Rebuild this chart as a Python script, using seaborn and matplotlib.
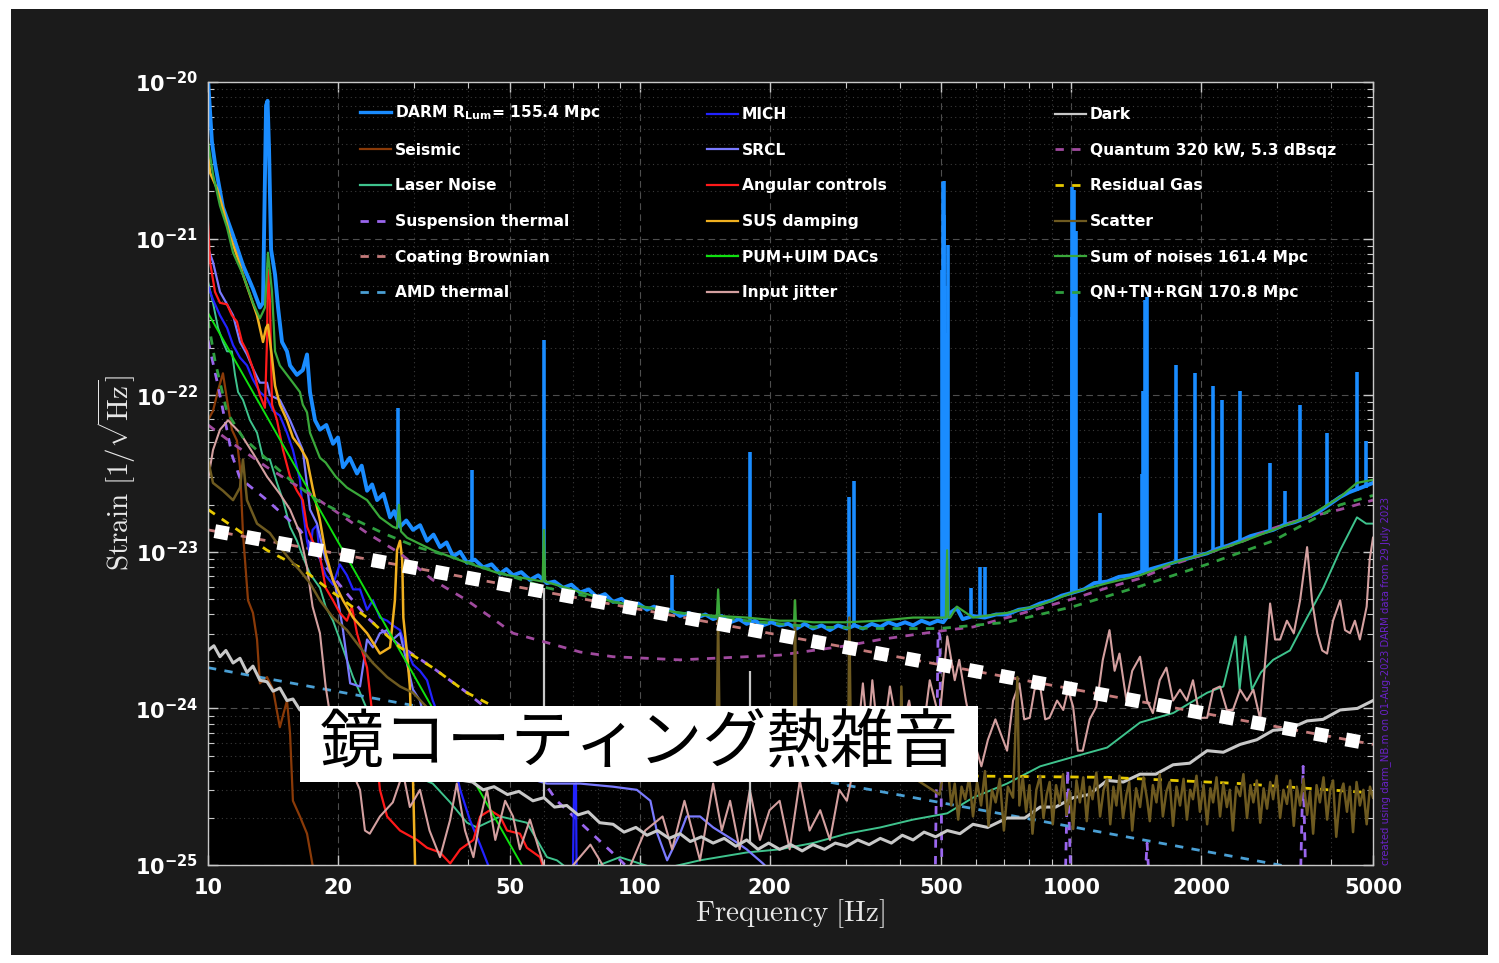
import numpy as np
import pandas as pd
import matplotlib
matplotlib.use("Agg")
import matplotlib.pyplot as plt
from matplotlib.lines import Line2D
from matplotlib.patches import Rectangle
from matplotlib.ticker import LogLocator, NullFormatter
import seaborn as sns

plt.rcParams['font.family'] = ['DejaVu Sans']
plt.rcParams['mathtext.fontset'] = 'dejavusans'
plt.rcParams['mathtext.default'] = 'bf'

# ---------------------------------------------------------------------------
# Noise budget curves: (frequency [Hz], log10 strain ASD [1/sqrt(Hz)])
# ---------------------------------------------------------------------------
darm = [(10, -19.98), (10.21, -20.38), (10.38, -20.52), (10.83, -20.80), (11.43, -20.98),
        (12.05, -21.17), (12.71, -21.32), (13.19, -21.44), (13.41, -21.41), (13.63, -20.15),
        (13.74, -20.12), (13.85, -20.43), (14.0, -21.07), (14.3, -21.23), (14.53, -21.44),
        (14.84, -21.66), (15.24, -21.72), (15.49, -21.81), (16.07, -21.87), (16.58, -21.84),
        (16.96, -21.74), (17.23, -21.98), (17.7, -22.16), (18.17, -22.22), (18.8, -22.19),
        (19.48, -22.31), (20.0, -22.27), (20.55, -22.46), (21.3, -22.40), (22.14, -22.50),
        (22.7, -22.45), (23.36, -22.61), (24.0, -22.57), (24.64, -22.67), (25.5, -22.63),
        (26.41, -22.78), (27.0, -22.74), (27.85, -22.84), (28.8, -22.80), (29.85, -22.86),
        (31.0, -22.83), (32.17, -22.93), (33.3, -22.89), (34.48, -22.97), (35.7, -22.94),
        (36.97, -23.03), (38.4, -23.00), (39.82, -23.07), (41.5, -23.05), (43.4, -23.10),
        (45.4, -23.08), (47.5, -23.14), (49.1, -23.11), (50.9, -23.15), (53.2, -23.13),
        (55.7, -23.18), (58.2, -23.15), (61.0, -23.20), (63.5, -23.19), (66.5, -23.23),
        (69.5, -23.21), (72.8, -23.26), (76.2, -23.24), (79.6, -23.29), (83.1, -23.27),
        (86.8, -23.32), (90.8, -23.30), (95.0, -23.35), (99.3, -23.33), (104, -23.37),
        (108, -23.35), (113, -23.39), (118, -23.37), (124, -23.41), (130, -23.39),
        (136, -23.42), (142, -23.40), (148, -23.43), (155, -23.41), (162, -23.45),
        (170, -23.43), (177, -23.46), (185, -23.44), (193, -23.47), (202, -23.45),
        (211, -23.47), (221, -23.46), (231, -23.49), (241, -23.46), (252, -23.49),
        (264, -23.47), (276, -23.50), (288, -23.47), (302, -23.49), (315, -23.47),
        (329, -23.49), (345, -23.46), (361, -23.48), (377, -23.45), (394, -23.47),
        (412, -23.45), (430, -23.47), (450, -23.44), (470, -23.46), (490, -23.44),
        (505, -23.45), (524, -23.39), (543, -23.36), (560, -23.43), (592, -23.41),
        (630, -23.42), (670, -23.40), (710, -23.40), (755, -23.37), (800, -23.36),
        (847, -23.33), (900, -23.31), (950, -23.28), (1010, -23.26), (1070, -23.24),
        (1130, -23.20), (1211, -23.19), (1290, -23.16), (1370, -23.15), (1443, -23.13),
        (1530, -23.11), (1620, -23.09), (1721, -23.07), (1820, -23.05), (1940, -23.03),
        (2064, -23.01), (2180, -22.98), (2310, -22.96), (2461, -22.93), (2600, -22.90),
        (2760, -22.88), (2935, -22.86), (3100, -22.83), (3300, -22.81), (3518, -22.78),
        (3720, -22.75), (3950, -22.70), (4196, -22.65), (4400, -22.62), (4700, -22.59),
        (5000, -22.56)]

# narrow lines in DARM: frequency, log10 top, log10 floor beneath the line
darm_line_hz = [27.55, 40.9, 60.0, 118.9, 180.3, 305.6, 313.9, 503, 504.6, 506, 508, 510,
                512, 515, 518.3, 586, 614.9, 631.5, 1002, 1004, 1008, 1012, 1015, 1020,
                1026, 1166, 1462, 1467, 1475, 1483, 1490, 1498, 1749, 1935, 2131, 2236,
                2461, 2888, 3130, 3389, 3914, 4594, 4820]
darm_line_top = [-22.08, -22.48, -21.65, -23.15, -22.36, -22.65, -22.55, -21.2, -20.64,
                 -20.85, -20.63, -21.3, -21.6, -21.9, -21.04, -23.23, -23.10, -23.10, -21.5,
                 -20.67, -21.3, -22.2, -20.69, -21.6, -20.95, -22.75, -22.5, -21.97, -22.2,
                 -21.39, -22.0, -21.37, -21.81, -21.86, -21.94, -22.03, -21.97, -22.43,
                 -22.61, -22.06, -22.24, -21.85, -22.29]
darm_line_floor = [-22.80, -23.06, -23.19, -23.38, -23.45, -23.48, -23.47, -23.43, -23.43,
                   -23.43, -23.43, -23.43, -23.43, -23.43, -23.43, -23.41, -23.41, -23.41,
                   -23.26, -23.26, -23.26, -23.26, -23.26, -23.26, -23.26, -23.20, -23.12,
                   -23.12, -23.12, -23.12, -23.12, -23.12, -23.07, -23.03, -23.00, -22.98,
                   -22.93, -22.87, -22.83, -22.80, -22.71, -22.61, -22.59]

seismic = [(10, -22.16), (10.27, -22.10), (10.55, -21.97), (10.83, -21.86), (11.07, -22.03),
           (11.36, -22.22), (11.67, -22.29), (11.86, -22.46), (12.05, -22.88), (12.38, -23.31),
           (12.71, -23.39), (12.99, -23.56), (13.19, -23.84), (13.7, -23.80), (14.15, -23.88),
           (14.67, -24.12), (15.24, -23.95), (15.49, -24.16), (15.73, -24.59), (16.33, -24.69),
           (16.96, -24.80), (17.47, -25.0), (18.17, -25.22)]

laser = [(10, -25.5), (10.01, -21.28), (10.27, -21.41), (10.55, -21.57), (10.83, -21.66),
         (11.07, -21.72), (11.36, -21.72), (11.55, -21.87), (11.74, -21.98), (12.05, -22.03),
         (12.51, -22.16), (12.99, -22.24), (13.41, -22.40), (13.91, -22.41), (14.45, -22.56),
         (14.92, -22.67), (15.49, -22.84), (16.07, -22.93), (16.58, -23.03), (17.23, -23.14),
         (18.17, -23.23), (18.73, -23.35), (19.48, -23.44), (20.2, -23.56), (20.98, -23.69),
         (21.68, -23.80), (22.5, -23.90), (25.0, -24.20), (27.85, -24.39), (33.17, -24.48),
         (36.4, -24.60), (39.82, -24.73), (42.0, -24.76), (47.5, -24.69), (54.8, -24.73),
         (61.0, -24.95), (64.3, -24.97), (70.9, -25.06), (90.0, -24.95), (111, -25.03),
         (138, -24.97), (177, -24.92), (211, -24.90), (252, -24.86), (302, -24.80),
         (361, -24.76), (430, -24.71), (516, -24.67), (592, -24.57), (710, -24.48),
         (847, -24.37), (1010, -24.31), (1211, -24.25), (1443, -24.09), (1721, -24.03),
         (2064, -23.90), (2251, -23.86), (2403, -23.54), (2454, -23.88), (2530, -23.54),
         (2620, -23.88), (2750, -23.77), (2935, -23.69), (3210, -23.63), (3518, -23.42),
         (3835, -23.23), (4196, -22.99), (4590, -22.78), (4820, -22.82), (5000, -22.82)]

suspension = [(10, -21.65), (10.55, -21.94), (11.36, -22.38), (11.86, -22.53), (13.7, -22.67),
              (16.33, -22.86), (19.48, -23.16), (23.36, -23.42), (27.85, -23.60), (33.17, -23.74),
              (39.82, -23.90), (47.5, -24.07), (64.3, -24.59), (88.7, -24.95), (94.9, -25.03),
              (138, -25.22), (400, -25.35), (483.5, -25.2), (491.3, -23.51), (495.8, -23.53),
              (502, -25.2), (967, -25.2), (981, -24.39), (1000, -25.2), (1475, -25.2),
              (1498, -24.86), (1522, -25.2), (3389, -25.2), (3444, -24.37), (3500, -25.2),
              (5000, -25.5)]

coating_hz = [10, 5000]
coating_log = [-22.86, -24.23]

amd_hz = [10, 5000]
amd_log = [-23.74, -25.11]

mich = [(10, -21.30), (10.27, -21.39), (10.66, -21.49), (11.07, -21.57), (11.43, -21.68),
        (11.86, -21.76), (12.31, -21.81), (12.71, -21.90), (13.19, -21.98), (13.7, -22.02),
        (14.15, -22.10), (14.67, -22.13), (15.24, -22.24), (15.73, -22.35), (16.33, -22.54),
        (16.58, -22.73), (16.96, -22.93), (17.23, -23.02), (17.47, -22.86), (17.88, -22.83),
        (18.17, -23.05), (18.73, -23.15), (19.48, -23.21), (20.2, -23.08), (20.98, -23.15),
        (21.68, -23.24), (22.5, -23.24), (23.36, -23.37), (24.1, -23.31), (25.02, -23.42),
        (26.0, -23.44), (26.8, -23.47), (27.85, -23.50), (28.92, -23.63), (29.85, -23.72),
        (30.98, -23.76), (32.17, -23.82), (33.17, -23.95), (34.48, -24.07), (35.8, -24.17),
        (36.97, -24.33), (38.4, -24.52), (40.4, -24.71), (42.7, -24.87), (45.0, -25.03),
        (65.4, -25.22), (70.0, -25.1), (70.5, -24.49), (71.2, -24.48), (71.5, -25.22)]

srcl = [(10, -21.06), (10.27, -21.15), (10.66, -21.34), (11.07, -21.42), (11.43, -21.49),
        (11.86, -21.66), (12.31, -21.74), (12.71, -21.83), (13.19, -21.92), (13.7, -21.92),
        (13.91, -22.00), (14.67, -22.03), (15.49, -22.16), (16.58, -22.35), (17.23, -22.73),
        (17.88, -22.82), (18.73, -23.05), (19.76, -23.23), (20.5, -23.48), (21.35, -23.84),
        (22.5, -23.86), (23.36, -23.56), (24.1, -23.61), (25.02, -23.52), (26.0, -23.50),
        (26.8, -23.56), (27.85, -23.52), (29.85, -23.88), (30.98, -23.95), (32.17, -24.14),
        (34.48, -24.33), (38.4, -24.20), (42.7, -24.33), (47.5, -24.39), (52.8, -24.43),
        (61.0, -24.48), (72.8, -24.48), (86.8, -24.50), (98.5, -24.52), (105.9, -24.59),
        (109.9, -24.80), (115.8, -24.97), (124, -24.80), (128.5, -24.69), (138, -24.69),
        (148, -24.76), (164.6, -24.84), (177, -24.90), (193, -24.99), (211, -25.1)]

angular = [(10, -20.89), (10.11, -21.15), (10.38, -21.34), (10.66, -21.41), (11.07, -21.42),
           (11.36, -21.49), (11.67, -21.53), (11.99, -21.66), (12.31, -21.72), (12.71, -21.83),
           (13.19, -22.00), (13.55, -22.08), (13.7, -21.65), (13.77, -21.20), (13.91, -21.39),
           (14.07, -22.06), (14.45, -22.16), (14.92, -22.35), (15.49, -22.52), (16.07, -22.61),
           (16.58, -22.67), (16.96, -22.84), (17.47, -22.93), (18.17, -23.03), (18.73, -23.23),
           (19.48, -23.31), (20.2, -23.39), (20.98, -23.44), (21.54, -23.35), (22.14, -23.52),
           (23.36, -23.74), (24.1, -24.07), (25.02, -24.52), (26.0, -24.69), (27.85, -24.78),
           (30.5, -24.84), (32.17, -24.89), (34.48, -24.92), (36.4, -24.99), (38.4, -24.90),
           (41.2, -24.84), (42.7, -24.69), (45.0, -24.65), (47.5, -24.69), (49.3, -24.78),
           (52.8, -24.80), (54.8, -24.89), (58.8, -24.95), (60.4, -25.06)]

sus_damping = [(10, -20.45), (10.11, -20.58), (10.49, -20.68), (10.83, -20.81), (11.24, -20.98),
               (11.67, -21.11), (12.05, -21.23), (12.51, -21.36), (12.99, -21.49), (13.41, -21.66),
               (13.63, -21.57), (13.77, -21.55), (14.07, -21.76), (14.3, -21.94), (14.67, -22.06),
               (15.24, -22.16), (15.73, -22.27), (16.33, -22.33), (16.96, -22.41), (17.47, -22.59),
               (18.17, -22.80), (18.73, -23.01), (19.48, -23.18), (20.55, -23.31), (21.68, -23.42),
               (23.36, -23.52), (25.02, -23.65), (26.41, -23.61), (27.1, -23.31), (27.41, -22.99),
               (27.85, -22.93), (28.18, -23.05), (28.35, -23.42), (28.92, -23.65), (29.35, -23.86),
               (29.85, -24.46), (30.2, -25.03)]

dac_hz = [10, 53.3]
dac_log = [-21.475, -25.0]

jitter = [(10, -22.54), (10.27, -22.35), (10.66, -22.22), (11.13, -22.16), (11.86, -22.24),
          (12.71, -22.37), (13.7, -22.52), (14.67, -22.63), (15.49, -22.73), (16.33, -22.88),
          (16.96, -23.10), (17.47, -23.35), (18.17, -23.52), (18.73, -23.86), (19.48, -24.16),
          (20.98, -24.33), (22.5, -24.52), (23.1, -24.78), (23.7, -24.80), (25.02, -24.69),
          (26.8, -24.60), (28.3, -24.41), (29.35, -24.63), (30.98, -24.52), (32.6, -24.78),
          (34.48, -24.95), (36.4, -24.71), (37.7, -24.48), (39.4, -24.78), (41.2, -24.95),
          (42.7, -24.71), (44.3, -24.52), (46.3, -24.84), (48.8, -24.59), (50.9, -24.69),
          (52.8, -24.90), (55.7, -24.71), (60.4, -25.03), (65.4, -25.1), (76.9, -24.87),
          (83.3, -25.03), (95, -25.01), (103, -24.78), (113, -24.69), (118.9, -24.90),
          (127, -24.59), (138, -24.97), (148, -24.48), (155, -24.78), (162, -24.59),
          (170.5, -24.90), (180, -24.52), (190, -24.84), (200, -24.65), (211, -24.59),
          (222.6, -24.90), (235, -24.46), (247.6, -24.78), (262, -24.65), (276, -24.84),
          (290, -24.52), (302, -24.59), (316, -24.33), (329, -23.84), (338, -24.20),
          (346, -23.82), (361, -24.33), (380, -23.86), (400, -24.20), (421, -23.95),
          (445, -24.33), (470, -23.82), (495, -24.07), (516, -23.54), (537, -23.82),
          (550, -23.69), (570, -23.95), (594, -24.20), (619, -24.37), (641, -24.20),
          (667, -24.07), (710, -24.27), (733, -23.95), (758, -23.84), (778, -24.07),
          (801, -24.06), (822, -23.88), (847, -23.86), (870, -24.07), (890, -24.06),
          (927, -23.95), (958, -24.01), (983, -23.88), (1010, -23.99), (1036, -24.27),
          (1063, -24.27), (1103, -24.07), (1143, -23.99), (1183, -23.69), (1226, -23.50),
          (1260, -23.76), (1293, -23.65), (1342, -23.95), (1384, -23.76), (1443, -23.67),
          (1498, -23.95), (1545, -24.03), (1603, -23.82), (1661, -23.74), (1721, -23.95),
          (1786, -23.88), (1853, -23.95), (1914, -23.82), (1986, -24.06), (2064, -24.06),
          (2131, -23.88), (2211, -23.86), (2293, -24.01), (2368, -24.01), (2461, -23.88),
          (2553, -23.95), (2641, -23.88), (2740, -24.07), (2815, -23.69), (2888, -23.33),
          (2966, -23.56), (3046, -23.56), (3159, -23.44), (3277, -23.52), (3389, -23.31),
          (3518, -22.97), (3612, -23.31), (3714, -23.52), (3813, -23.63), (3914, -23.65),
          (4040, -23.44), (4196, -23.31), (4307, -23.50), (4423, -23.52), (4540, -23.44),
          (4662, -23.56), (4834, -23.35), (4912, -23.05), (5000, -22.91)]

dark = [(10, -23.63), (10.32, -23.60), (10.66, -23.67), (11.0, -23.63), (11.43, -23.71),
        (11.86, -23.68), (12.31, -23.77), (12.71, -23.73), (13.19, -23.82), (13.7, -23.83),
        (14.15, -23.89), (14.67, -23.87), (15.24, -23.95), (15.73, -23.94), (16.33, -24.01),
        (17.0, -24.03), (18.0, -24.08), (19.5, -24.13), (21, -24.18), (23, -24.24),
        (25, -24.29), (27.5, -24.33), (30, -24.36), (33, -24.40), (36, -24.43),
        (38.9, -24.46), (41, -24.47), (43.4, -24.52), (46, -24.50), (49.4, -24.55),
        (52.5, -24.53), (56.6, -24.59), (60.0, -24.57), (63.5, -24.63), (67.8, -24.62),
        (72, -24.68), (76, -24.66), (80.8, -24.73), (86.8, -24.74), (92, -24.79),
        (98, -24.76), (104, -24.81), (110, -24.78), (117, -24.83), (124, -24.80),
        (131, -24.85), (139, -24.82), (148, -24.86), (157, -24.83), (167, -24.88),
        (177, -24.84), (188, -24.90), (199, -24.86), (211, -24.90), (224, -24.87),
        (238, -24.91), (252, -24.87), (268, -24.90), (284, -24.86), (302, -24.88),
        (320, -24.84), (340, -24.87), (361, -24.83), (383, -24.86), (406, -24.81),
        (430, -24.84), (456, -24.79), (485, -24.82), (516, -24.78), (552, -24.80),
        (592, -24.74), (640, -24.76), (710, -24.70), (780, -24.70), (847, -24.63),
        (920, -24.63), (1010, -24.57), (1100, -24.55), (1211, -24.46), (1320, -24.47),
        (1443, -24.42), (1570, -24.42), (1721, -24.36), (1880, -24.35), (2064, -24.27),
        (2250, -24.28), (2461, -24.23), (2690, -24.20), (2935, -24.14), (3200, -24.13),
        (3518, -24.08), (3830, -24.07), (4196, -24.01), (4600, -24.00), (5000, -23.95)]
dark_line_hz = [60.0, 180.3]
dark_line_top = [-23.23, -23.76]
dark_line_floor = [-24.58, -24.85]

quantum = [(10, -22.19), (11.43, -22.31), (13.7, -22.46), (16.33, -22.59), (19.48, -22.73),
           (23.36, -22.88), (27.85, -23.01), (33.17, -23.18), (39.82, -23.31), (47.5, -23.46),
           (50.9, -23.52), (61.0, -23.58), (72.8, -23.64), (86.8, -23.67), (104, -23.68),
           (124, -23.69), (148, -23.68), (177, -23.67), (211, -23.66), (252, -23.63),
           (302, -23.60), (361, -23.56), (430, -23.53), (516, -23.50), (592, -23.48),
           (710, -23.42), (847, -23.36), (1010, -23.30), (1211, -23.23), (1443, -23.17),
           (1721, -23.08), (2064, -23.01), (2461, -22.94), (2935, -22.85), (3518, -22.78),
           (4196, -22.73), (5000, -22.67)]

residual_gas = [(10, -22.73), (11.43, -22.84), (13.7, -22.99), (16.33, -23.10), (19.48, -23.26),
                (23.36, -23.42), (27.85, -23.61), (33.17, -23.74), (39.82, -23.90), (50.0, -24.04),
                (80.8, -24.23), (138, -24.34), (235, -24.39), (494, -24.43), (1211, -24.44),
                (2461, -24.48), (5000, -24.54)]

scatter = [(10, -22.41), (10.27, -22.56), (10.83, -22.61), (11.43, -22.67), (11.86, -22.59),
           (12.05, -22.41), (12.31, -22.67), (12.99, -22.82), (13.91, -22.88), (14.67, -22.97),
           (15.49, -23.05), (16.33, -23.12), (17.23, -23.20), (18.17, -23.31), (19.48, -23.42),
           (20.98, -23.50), (22.5, -23.61), (24.1, -23.71), (26.0, -23.80), (27.85, -23.86),
           (29.85, -23.90), (32.6, -24.01), (42.7, -24.20), (52.8, -24.30), (65.4, -24.35),
           (80.8, -24.33), (106, -24.38), (138, -24.35), (150.5, -24.37), (152, -23.42),
           (153.5, -24.37), (227.5, -24.38), (229, -23.31), (231, -24.38), (304, -24.37),
           (306, -23.42), (309, -24.37), (400, -24.40), (404, -23.86), (408, -24.40),
           (495, -24.55), (505, -24.42), (516, -24.33), (527, -24.62), (537, -24.48),
           (547, -24.71), (557, -24.50), (568, -24.58), (580, -24.44), (592, -24.69),
           (605, -24.47), (618, -24.62), (631, -24.40), (643, -24.75), (655, -24.52),
           (668, -24.60), (683, -24.45), (698, -24.78), (713, -24.50), (733, -24.57),
           (750, -23.80), (758, -24.62), (772, -24.44), (786, -24.66), (800, -24.49),
           (813, -24.80), (830, -24.52), (847, -24.43), (862, -24.70), (877, -24.55),
           (891, -24.47), (906, -24.74), (922, -24.49), (940, -24.61), (957, -24.42),
           (975, -24.68), (992, -24.53), (1010, -24.77), (1028, -24.46), (1047, -24.60),
           (1066, -24.44), (1086, -24.72), (1103, -24.50), (1120, -24.58), (1143, -24.41),
           (1166, -24.69), (1188, -24.52), (1211, -24.45), (1231, -24.74), (1252, -24.50),
           (1272, -24.62), (1293, -24.43), (1318, -24.70), (1342, -24.55), (1362, -24.47),
           (1384, -24.78), (1413, -24.51), (1443, -24.63), (1470, -24.44), (1498, -24.58),
           (1520, -24.72), (1545, -24.49), (1575, -24.60), (1603, -24.42), (1630, -24.69),
           (1661, -24.53), (1690, -24.47), (1721, -24.75), (1753, -24.50), (1786, -24.62),
           (1820, -24.45), (1853, -24.71), (1885, -24.52), (1914, -24.58), (1950, -24.43),
           (1986, -24.66), (2025, -24.49), (2064, -24.74), (2100, -24.51), (2131, -24.60),
           (2170, -24.44), (2211, -24.69), (2250, -24.48), (2293, -24.63), (2330, -24.52),
           (2368, -24.78), (2410, -24.50), (2461, -24.56), (2505, -24.42), (2553, -24.70),
           (2600, -24.49), (2641, -24.60), (2690, -24.46), (2740, -24.73), (2790, -24.51),
           (2841, -24.64), (2890, -24.47), (2935, -24.58), (2990, -24.43), (3046, -24.70),
           (3100, -24.52), (3159, -24.61), (3215, -24.46), (3277, -24.75), (3330, -24.50),
           (3389, -24.62), (3450, -24.45), (3518, -24.68), (3575, -24.53), (3633, -24.80),
           (3700, -24.49), (3766, -24.60), (3840, -24.44), (3914, -24.71), (3980, -24.52),
           (4040, -24.46), (4110, -24.82), (4196, -24.55), (4270, -24.48), (4352, -24.66),
           (4420, -24.50), (4495, -24.79), (4580, -24.47), (4662, -24.62), (4750, -24.52),
           (4834, -24.74), (4920, -24.50), (5000, -24.57)]

noise_sum = [(10, -20.38), (10.27, -20.59), (10.66, -20.79), (11.07, -20.93), (11.43, -21.09),
             (12.05, -21.23), (12.71, -21.41), (13.19, -21.51), (13.55, -21.44), (13.77, -21.09),
             (14.07, -21.34), (14.3, -21.72), (14.67, -21.81), (15.24, -21.87), (15.73, -21.92),
             (16.33, -21.98), (16.58, -22.06), (16.96, -22.11), (17.23, -22.24), (18.17, -22.40),
             (18.73, -22.43), (19.76, -22.52), (20.98, -22.59), (22.14, -22.63), (23.36, -22.67),
             (25.02, -22.78), (26.81, -22.84), (27.4, -22.85), (27.7, -22.70), (28.0, -22.87),
             (28.92, -22.91), (33.17, -22.99), (39.82, -23.07), (47.5, -23.14), (59.6, -23.19),
             (60.0, -22.86), (60.4, -23.19), (86.8, -23.32), (124, -23.39), (151, -23.41),
             (152, -23.24), (153, -23.41), (177, -23.42), (211, -23.44), (228, -23.44),
             (229, -23.31), (230, -23.44), (252, -23.45), (302, -23.45), (361, -23.44),
             (430, -23.42), (495, -23.42), (512, -23.42), (515.6, -22.99), (519, -23.42),
             (524, -23.42), (543, -23.35), (592, -23.42), (710, -23.39), (847, -23.34),
             (1010, -23.26), (1211, -23.20), (1443, -23.15), (1721, -23.07), (2064, -23.01),
             (2461, -22.94), (2935, -22.86), (3518, -22.78), (4196, -22.65), (4590, -22.56),
             (5000, -22.54)]

qn_tn_rgn = [(10, -21.52), (10.38, -21.78), (11.07, -22.11), (12.05, -22.27), (13.7, -22.41),
             (15.49, -22.54), (17.88, -22.67), (21.35, -22.78), (25.41, -22.88), (30.5, -22.97),
             (36.4, -23.03), (43.4, -23.10), (50.9, -23.16), (61.0, -23.23), (86.8, -23.32),
             (124, -23.39), (177, -23.44), (252, -23.48), (361, -23.49), (495, -23.49),
             (710, -23.45), (1010, -23.35), (1443, -23.22), (2064, -23.08), (2935, -22.93),
             (4196, -22.70), (5000, -22.64)]

labels_col1 = [r'DARM R$_{\mathbf{Lum}}$= 155.4 Mpc', 'Seismic', 'Laser Noise',
               'Suspension thermal', 'Coating Brownian', 'AMD thermal']
labels_col2 = ['MICH', 'SRCL', 'Angular controls', 'SUS damping', 'PUM+UIM DACs',
               'Input jitter']
labels_col3 = ['Dark', 'Quantum 320 kW, 5.3 dBsqz', 'Residual Gas', 'Scatter',
               'Sum of noises 161.4 Mpc', 'QN+TN+RGN 170.8 Mpc']

y_decades = [1e-25, 1e-24, 1e-23, 1e-22, 1e-21, 1e-20]
y_labels = [r'$10^{-25}$', r'$10^{-24}$', r'$10^{-23}$', r'$10^{-22}$', r'$10^{-21}$',
            r'$10^{-20}$']
x_ticks = [10, 20, 50, 100, 200, 500, 1000, 2000, 5000]

annotation = '鏡コーティング熱雑音'
footnote = 'created using darm_NB.m on 01-Aug-2023 DARM data from 29 July 2023'

# ---------------------------------------------------------------------------
C = {
    'darm': '#1a8cff', 'seismic': '#8a3a08', 'laser': '#3fc38d', 'susp': '#9a66ee',
    'coat': '#c47a7a', 'amd': '#4a9fd4', 'mich': '#2222ff', 'srcl': '#7a7aff',
    'ang': '#ff1a1a', 'susd': '#f0b020', 'dac': '#10e010', 'jit': '#d4a0a0',
    'dark': '#c8c8c8', 'qn': '#a04a9e', 'rgas': '#e6c800', 'scat': '#6e5a20',
    'sum': '#3aa83a', 'qtr': '#2e9e3e',
}
DASH = (0, (3, 3))

fig = plt.figure(figsize=(14.99, 9.63), dpi=100, facecolor='white')
fig.add_artist(Rectangle((11 / 1499, 1 - 955 / 963), 1477 / 1499, 946 / 963,
                         transform=fig.transFigure, facecolor='#1b1b1b',
                         edgecolor='none', zorder=-10))
ax = fig.add_axes([208 / 1499, 98 / 963, 1165 / 1499, 783 / 963])
ax.set_facecolor('black')
ax.set_xscale('log')
ax.set_yscale('log')


def draw(hz, log_asd, color, lw, ls='-', z=3):
    frame = pd.DataFrame({'f': hz, 'asd': 10.0 ** np.asarray(log_asd, dtype=float)})
    sns.lineplot(data=frame, x='f', y='asd', ax=ax, color=color, lw=lw, linestyle=ls,
                 estimator=None, sort=False, zorder=z)


def draw_pairs(pairs, color, lw, ls='-', z=3):
    hz, val = zip(*pairs)
    draw(hz, val, color, lw, ls, z)


draw_pairs(darm, C['darm'], 2.8, z=2)
ax.vlines(darm_line_hz, 10.0 ** np.array(darm_line_floor), 10.0 ** np.array(darm_line_top),
          color=C['darm'], lw=2.6, zorder=2)
draw_pairs(seismic, C['seismic'], 1.6)
draw_pairs(laser, C['laser'], 1.4)
draw_pairs(suspension, C['susp'], 2.0, DASH)
draw(coating_hz, coating_log, C['coat'], 2.0, DASH)
draw(amd_hz, amd_log, C['amd'], 2.0, DASH)
draw_pairs(mich, C['mich'], 1.6)
draw_pairs(srcl, C['srcl'], 1.6)
draw_pairs(angular, C['ang'], 1.6)
draw_pairs(sus_damping, C['susd'], 1.8)
draw(dac_hz, dac_log, C['dac'], 1.4)
draw_pairs(jitter, C['jit'], 1.5)
draw_pairs(dark, C['dark'], 2.2)
ax.vlines(dark_line_hz, 10.0 ** np.array(dark_line_floor), 10.0 ** np.array(dark_line_top),
          color=C['dark'], lw=1.6, zorder=3)
draw_pairs(quantum, C['qn'], 2.0, DASH)
draw_pairs(residual_gas, C['rgas'], 2.0, DASH)
draw_pairs(scatter, C['scat'], 1.8)
draw_pairs(noise_sum, C['sum'], 1.6, z=4)
draw_pairs(qn_tn_rgn, C['qtr'], 2.0, DASH, z=4)
# highlighted coating thermal noise
draw(coating_hz, coating_log, 'white', 10.0, (1.8, (1, 1.3)), z=6)

ax.set_xlim(10, 5000)
ax.set_ylim(1e-25, 1e-20)
ax.set_xticks(x_ticks)
ax.set_xticklabels([str(v) for v in x_ticks], fontweight='bold')
ax.xaxis.set_minor_locator(LogLocator(base=10, subs=np.arange(1, 10), numticks=60))
ax.xaxis.set_minor_formatter(NullFormatter())
ax.set_yticks(y_decades)
ax.set_yticklabels(y_labels)
ax.yaxis.set_minor_locator(LogLocator(base=10, subs=np.arange(2, 10), numticks=60))
ax.yaxis.set_minor_formatter(NullFormatter())
ax.tick_params(which='both', direction='in', top=True, right=True, color='#c8c8c8',
               labelcolor='white', labelsize=15)
ax.tick_params(which='major', length=7, width=1)
ax.tick_params(axis='x', which='major', pad=9)
ax.tick_params(axis='y', which='major', pad=7)
ax.tick_params(which='minor', length=4, width=0.8)
ax.set_axisbelow(True)
ax.grid(which='major', color='#4e4e4e', linestyle=(0, (6, 4)), lw=0.8)
ax.grid(which='minor', color='#3a3a3a', linestyle=(0, (1, 3)), lw=0.8)
for s in ax.spines.values():
    s.set_color('#c8c8c8')
    s.set_linewidth(1.0)
    s.set_zorder(7)

ax.set_xlabel(r'$\mathrm{Frequency}\ [\mathrm{Hz}]$', math_fontfamily='cm', fontsize=21,
              color='#e8e8e8', labelpad=0)
ax.set_ylabel(r'$\mathrm{Strain}\ [1/\sqrt{\mathrm{Hz}}]$', math_fontfamily='cm',
              fontsize=21, color='#e8e8e8', labelpad=-2)

# legend, three columns
def handle(color, lw, ls='-'):
    return Line2D([], [], color=color, lw=lw, linestyle=ls)

h1 = [handle(C['darm'], 2.4), handle(C['seismic'], 1.6), handle(C['laser'], 1.6),
      handle(C['susp'], 2.0, DASH), handle(C['coat'], 2.0, DASH), handle(C['amd'], 2.0, DASH)]
h2 = [handle(C['mich'], 1.6), handle(C['srcl'], 1.6), handle(C['ang'], 1.6),
      handle(C['susd'], 1.6), handle(C['dac'], 1.6), handle(C['jit'], 1.6)]
h3 = [handle(C['dark'], 1.6), handle(C['qn'], 2.0, DASH), handle(C['rgas'], 2.0, DASH),
      handle(C['scat'], 1.6), handle(C['sum'], 1.6), handle(C['qtr'], 2.0, DASH)]

leg_kw = dict(loc='upper left', frameon=False, borderpad=0, borderaxespad=0,
              handlelength=2.0, handletextpad=0.25, labelspacing=1.33,
              prop={'weight': 'bold', 'size': 11.2}, labelcolor='white',
              bbox_transform=fig.transFigure)
legs = []
for hs, ls_, x0, y0 in [(h1, labels_col1, 360, 103), (h2, labels_col2, 707, 107),
                        (h3, labels_col3, 1055, 107)]:
    lg = ax.legend(hs, ls_, bbox_to_anchor=(x0 / 1499, 1 - y0 / 963), **leg_kw)
    lg.set_zorder(8)
    legs.append(lg)
for lg in legs[:-1]:
    ax.add_artist(lg)

ax.text(1.006, 0.0, footnote, transform=ax.transAxes, rotation=90, ha='left', va='bottom',
        fontsize=7.3, color='#6a22c8')

# caption box
fig.add_artist(Rectangle((300 / 1499, 1 - 782 / 963), 678 / 1499, 76 / 963,
                         transform=fig.transFigure, facecolor='white', edgecolor='none',
                         zorder=5))
fig.text(639 / 1499, 1 - 744 / 963, annotation, fontsize=46, family='Noto Sans CJK JP',
         color='black', ha='center', va='center', zorder=6)

fig.savefig('out.png', dpi=100, facecolor='white')
